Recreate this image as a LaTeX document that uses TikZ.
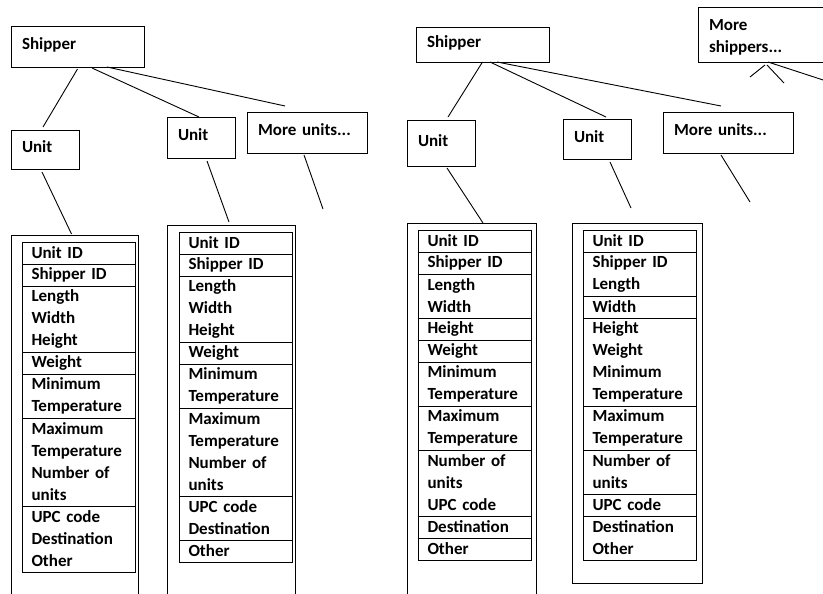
\documentclass[tikz,border=0pt]{standalone}
\usepackage{fontspec}
\setmainfont{Carlito}
\usetikzlibrary{positioning}

\begin{document}
\begin{tikzpicture}[
    x=1pt, y=-1pt, line width=0.9pt,
    box/.style={rectangle, draw, outer sep=0pt, anchor=north west, inner xsep=11pt, text depth=5pt, align=left, font=\bfseries\fontsize{17}{22}\selectfont},
    outerbox/.style={rectangle, draw, outer sep=0pt, anchor=north west},
    cell/.style={rectangle, draw, outer sep=0pt, inner xsep=9.5pt, inner ysep=0pt, text width=94pt, minimum height=#1*22pt, align=left, font=\bfseries\fontsize{17}{22}\selectfont}
]
\useasboundingbox (0,0) rectangle (823,594);
\clip (0,0) rectangle (823,594);

% shippers and units
\node[box, text width=111pt, minimum height=41pt] (ship1) at (11,26) {Shipper};
\node[box, text width=46pt, minimum height=39pt] (unit1) at (11,130) {Unit};
\node[box, text width=46pt, minimum height=41pt] (unit2) at (167,117) {Unit};
\node[box, text width=98pt, minimum height=41pt] (more1) at (247,112) {More units...};
\node[box, text width=111pt, minimum height=35pt] (ship2) at (416,27) {Shipper};
\node[box, text width=46pt, minimum height=46pt] (unit3) at (407,120) {Unit};
\node[box, text width=46pt, minimum height=40pt] (unit4) at (563,119) {Unit};
\node[box, text width=108pt, minimum height=41pt] (more2) at (663,112) {More units...};
\node[box, text width=118pt, text height=19pt, text depth=27pt, minimum height=55pt] (moreship) at (698,7) {More\\shippers...};

% free ends
\coordinate (end1) at (323,209);
\coordinate (end2) at (631,208);
\coordinate (end3) at (750,202);
\coordinate (end4) at (750,77);
\coordinate (end5) at (784,83);
\coordinate (end6) at (840,85.5);

% outer frames
\node[outerbox, minimum width=127pt, minimum height=400pt] (frame1) at (11,235) {};
\node[outerbox, minimum width=128pt, minimum height=400pt] (frame2) at (167,225) {};
\node[outerbox, minimum width=129pt, minimum height=400pt] (frame3) at (407,223) {};
\node[outerbox, minimum width=130pt, minimum height=360pt] (frame4) at (572,223) {};

% table 1
\node[cell=1, below right=7pt and 11pt of frame1.north west] (t1a) {Unit ID};
\node[cell=1, below=0pt of t1a] (t1b) {Shipper ID};
\node[cell=3, below=0pt of t1b] (t1c) {Length\\Width\\Height};
\node[cell=1, below=0pt of t1c] (t1d) {Weight};
\node[cell=2, below=0pt of t1d] (t1e) {Minimum\\Temperature};
\node[cell=4, below=0pt of t1e] (t1f) {Maximum\\Temperature\\Number of\\units};
\node[cell=3, below=0pt of t1f] (t1g) {UPC code\\Destination\\Other};

% table 2
\node[cell=1, below right=7pt and 12pt of frame2.north west] (t2a) {Unit ID};
\node[cell=1, below=0pt of t2a] (t2b) {Shipper ID};
\node[cell=3, below=0pt of t2b] (t2c) {Length\\Width\\Height};
\node[cell=1, below=0pt of t2c] (t2d) {Weight};
\node[cell=2, below=0pt of t2d] (t2e) {Minimum\\Temperature};
\node[cell=4, below=0pt of t2e] (t2f) {Maximum\\Temperature\\Number of\\units};
\node[cell=2, below=0pt of t2f] (t2g) {UPC code\\Destination};
\node[cell=1, below=0pt of t2g] (t2h) {Other};

% table 3
\node[cell=1, below right=7pt and 11pt of frame3.north west] (t3a) {Unit ID};
\node[cell=1, below=0pt of t3a] (t3b) {Shipper ID};
\node[cell=2, below=0pt of t3b] (t3c) {Length\\Width};
\node[cell=1, below=0pt of t3c] (t3d) {Height};
\node[cell=1, below=0pt of t3d] (t3e) {Weight};
\node[cell=2, below=0pt of t3e] (t3f) {Minimum\\Temperature};
\node[cell=2, below=0pt of t3f] (t3g) {Maximum\\Temperature};
\node[cell=3, below=0pt of t3g] (t3h) {Number of\\units\\UPC code};
\node[cell=1, below=0pt of t3h] (t3i) {Destination};
\node[cell=1, below=0pt of t3i] (t3j) {Other};

% table 4
\node[cell=1, below right=7pt and 11pt of frame4.north west] (t4a) {Unit ID};
\node[cell=2, below=0pt of t4a] (t4b) {Shipper ID\\Length};
\node[cell=1, below=0pt of t4b] (t4c) {Width};
\node[cell=4, below=0pt of t4c] (t4d) {Height\\Weight\\Minimum\\Temperature};
\node[cell=2, below=0pt of t4d] (t4e) {Maximum\\Temperature};
\node[cell=2, below=0pt of t4e] (t4f) {Number of\\units};
\node[cell=1, below=0pt of t4f] (t4g) {UPC code};
\node[cell=2, below=0pt of t4g] (t4h) {Destination\\Other};

% links
\draw[-] ([yshift=-2pt]ship1.south) -- ([xshift=-2pt, yshift=3pt]unit1.north);
\draw[-] ([xshift=14.5pt, yshift=-1pt]ship1.south) -- ([xshift=-2pt]unit2.north);
\draw[-] ([xshift=29.5pt]ship1.south) -- ([xshift=-22pt, yshift=6pt]more1.north);
\draw[-] ([xshift=-3pt, yshift=-3pt]unit1.south) -- ([xshift=-3pt, yshift=1pt]frame1.north);
\draw[-] ([xshift=6pt, yshift=-3pt]unit2.south) -- ([xshift=-2pt, yshift=3pt]frame2.north);
\draw[-] ([xshift=-3pt, yshift=-2pt]more1.south) -- (end1);

\draw[-] (ship2.south) -- ([xshift=7pt, yshift=3pt]unit3.north);
\draw[-] ([xshift=7.5pt]ship2.south) -- ([xshift=9pt, yshift=2pt]unit4.north);
\draw[-] ([xshift=14.5pt]ship2.south) -- ([xshift=-7pt, yshift=6pt]more2.north);
\draw[-] ([xshift=6pt, yshift=-2pt]unit3.south) -- ([xshift=11.5pt]frame3.north);
\draw[-] ([xshift=13pt, yshift=-3pt]unit4.south) -- (end2);
\draw[-] ([xshift=-7pt, yshift=-2pt]more2.south) -- (end3);

\draw[-] ([xshift=-3pt, yshift=-3pt]moreship.south) -- (end4);
\draw[-] ([xshift=-1pt, yshift=-3pt]moreship.south) -- (end5);
\draw[-] (moreship.south) -- (end6);

\end{tikzpicture}
\end{document}
